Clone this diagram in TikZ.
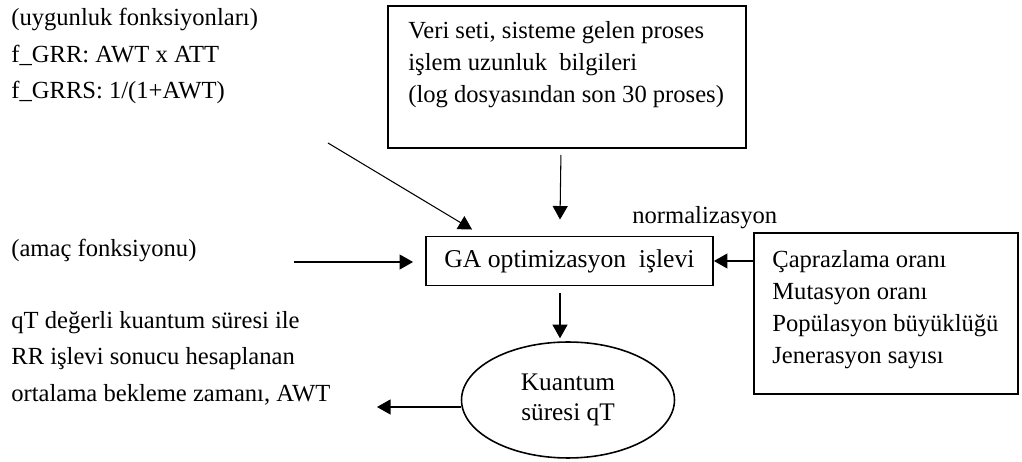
\documentclass[tikz,border=0pt]{standalone}
\usepackage{fontspec}
\setmainfont{Liberation Serif}
\usetikzlibrary{shapes.geometric, arrows.meta, calc}
\tikzstyle{infobox} = [
    rectangle,
    anchor=north west,
    line width=1.1pt,
    draw=black
]
\tikzstyle{process} = [
    rectangle,
    minimum width=5.74cm,
    minimum height=0.98cm,
    line width=1.1pt,
    draw=black,
    font=\fontsize{14.6}{17}\selectfont
]
\tikzstyle{terminal} = [
    ellipse,
    minimum width=4.26cm,
    minimum height=2.32cm,
    line width=0.9pt,
    align=center,
    draw=black,
    font=\fontsize{14.4}{17}\selectfont
]
\tikzstyle{note} = [
    anchor=north west,
    inner sep=0pt,
    align=left,
    font=\fontsize{14}{20.7}\selectfont
]
\tikzstyle{boxtext} = [
    anchor=north west,
    inner sep=0pt,
    align=left,
    font=\fontsize{14}{18.2}\selectfont
]
\tikzstyle{label} = [
    anchor=base west,
    inner sep=0pt,
    font=\fontsize{14}{17}\selectfont
]
\tikzstyle{arrow} = [line width=0.6pt,-{Triangle[length=0.27cm,width=0.3cm]}]

\begin{document}
\begin{tikzpicture}[x=0.02cm, y=-0.02cm]

\useasboundingbox (0,0) rectangle (1022,462);

\node (fitness) [note] at (11,8)
{(uygunluk fonksiyonları)\\f\_GRR: AWT x ATT\\f\_GRRS: 1/(1+AWT)};

\node (goal) [label] at (11,257) {(amaç fonksiyonu)};

\node (awt) [note] at (11,311)
{qT değerli kuantum süresi ile\\RR işlevi sonucu hesaplanan\\ortalama bekleme zamanı, AWT};

\node (data) [infobox, minimum width=7.16cm, minimum height=2.84cm] at (387,5) {};

\node (datatext) [boxtext] at (408,21)
{Veri seti, sisteme gelen proses\\işlem uzunluk\ \ bilgileri\\(log dosyasından son 30 proses)};

\node (ga) [process] at (569.5,261) {GA optimizasyon\ \ işlevi};

\node (norm) [label] at (632,224) {normalizasyon};

\node (params) [infobox, minimum width=5.28cm, minimum height=3.22cm] at (753,232) {};

\node (paramstext) [boxtext] at (772,250)
{Çaprazlama oranı\\Mutasyon oranı\\Popülasyon büyüklüğü\\Jenerasyon sayısı};

\node (qt) [terminal] at (568,400) {Kuantum\\süresi qT};

\coordinate (fitnessend) at (328,143);
\coordinate (goalend) at (294,262);
\coordinate (awtend) at (377,407);

\draw [arrow] (fitnessend) -- ($(ga.north west)+(47,-6)$);
\draw [arrow] (goalend) -- ($(ga.west)+(-12,1)$);
\draw [arrow] ($(data.south)+(-6,6)$) -- ($(ga.north)+(-9.5,-16)$);
\draw [arrow] (params.west |- ga.east) -- (ga.east);
\draw [arrow] ($(ga.south)+(-9.5,7)$) -- ($(qt.north)+(-8,-3)$);
\draw [arrow] ($(qt.west)+(0,7)$) -- (awtend);

\end{tikzpicture}
\end{document}
